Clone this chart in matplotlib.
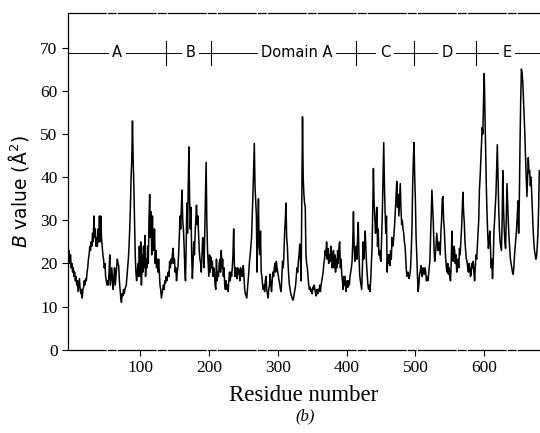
import numpy as np
import matplotlib.pyplot as plt

# B values, one per residue starting at residue -3
first_res = -3
bval = [
    23, 20, 22, 19, 20, 18, 19, 17, 18, 16, 17, 15, 16, 13.5, 15, 16.5, 14, 13, 14, 12,
    14, 14.5, 16, 15, 16.5, 16, 18, 19, 21, 22, 24, 23, 25, 24, 27, 25, 31, 26, 28, 24,
    26, 24, 28, 25, 31, 25, 31, 26, 24, 22, 21, 19, 20, 17, 16, 15, 16, 15, 18, 22,
    15, 17, 19, 16, 14, 17, 19, 15, 17, 19, 21, 20, 19.5, 16, 14, 12, 11, 13, 12.5, 14,
    13, 14, 14.5, 15, 17, 19, 21, 24, 28, 33, 40, 44, 53, 44, 38, 30, 22, 18, 16, 18,
    20, 17, 24, 17,
    # 101-210
    25, 15, 22, 18, 24, 19, 26.5, 17, 21, 19, 24, 20, 30, 36, 26, 32, 22, 31, 24, 23,
    28, 20, 23, 19, 21, 18, 21, 18, 15, 14, 12, 13, 14, 15, 14, 16, 15.5, 17, 16, 17,
    18, 17, 20.5, 19, 21, 20, 22, 23.5, 20, 21, 18, 19, 16, 18, 19, 22, 26, 31, 28, 33,
    37, 30, 28, 24, 19, 16, 24, 34, 27, 38, 47, 35, 28, 33, 22, 16.5, 20, 25, 22, 27,
    30, 33.5, 29, 31, 27, 23, 21, 20, 18, 22, 26, 24, 19, 27, 35, 43.4, 30, 23, 20, 17,
    22, 18, 21.5, 19, 20.5, 17, 19, 18, 15, 14,
    # 211-322
    21, 16, 18, 17, 20, 21, 18, 23, 19, 21, 17, 19, 15, 14, 16, 14, 15, 13.5, 16, 18,
    16, 18, 17, 19, 22, 28, 20, 17, 19, 18, 16.5, 19, 17.5, 18.5, 16, 19, 17, 18.5, 17, 19.5,
    17, 14, 13, 12.5, 12, 14, 16, 18, 20.5, 22, 24, 26, 31, 36, 42, 47.8, 38, 34.5, 31, 18,
    28, 35, 24, 22, 27.5, 18, 17, 15, 14, 15, 13.5, 16, 17, 14, 13, 12, 14, 15, 17.5, 15,
    13.5, 16, 18, 17, 19, 20, 18, 20.5, 19, 18, 17, 16, 15, 14, 13.5, 17, 20.5, 19, 22, 27,
    30, 34, 26, 24, 20, 17, 15, 14, 13, 12.5, 12, 11.5,
    # 323-430
    12, 13, 14, 15, 17, 19, 18, 20.5, 22, 24.5, 21, 16, 36, 54, 40, 36, 34, 33, 22, 20,
    19, 17, 15, 14, 14.5, 13.5, 14, 13, 14.5, 14, 15, 14, 13, 12.5, 14, 13, 14, 13.5, 15, 13.5,
    15, 16, 17, 18, 20, 21, 23, 22, 25, 21, 23.5, 20, 22, 20.5, 24, 23, 19, 20, 23, 19,
    22, 18, 21, 19, 23, 20, 24, 25, 19, 21, 17.5, 16, 14, 17, 15, 17, 13.5, 15, 16, 14.5,
    16, 15, 17, 18, 19, 20.5, 25, 32, 24, 20.5, 22, 24, 21, 26, 29.5, 22, 17.5, 16, 15, 14,
    19, 25, 21, 24, 27.5, 23.5, 20, 17.5,
    # 431-535
    15, 14, 15, 13.5, 16, 20, 23.5, 32, 42, 34, 31, 27, 29, 33, 24, 28, 22, 23, 21, 20.5,
    26, 32, 40, 48, 38, 32, 27, 31, 18, 22, 20, 22, 19.5, 23, 21, 26, 24, 25, 27, 29.5,
    33, 36, 39, 33, 36, 31, 35, 38.5, 33, 29, 30, 28, 27, 25, 24, 21, 18, 17, 18, 17,
    16.5, 17.5, 19, 23, 28, 38, 44, 48, 40, 34.5, 26, 22, 17, 13.5, 15, 17.5, 18, 19.5, 18, 17,
    19, 18, 17.5, 19, 18, 16, 17, 16, 17, 19, 20.5, 26, 31, 37, 33, 29.5, 24, 20.5, 22, 24,
    27, 25, 23, 25, 23.5,
    # 536-680
    22, 27, 30, 35, 35.5, 30, 28, 24, 21, 19, 18, 20, 17.5, 19, 17, 16, 20, 27.5, 22, 20.5,
    24, 23, 20, 22, 18, 20, 21, 19, 23.5, 22, 25, 28, 32, 36.5, 32, 29.5, 25, 23, 21, 20.5,
    19, 18, 20, 19, 17, 17.5, 20, 19, 20.5, 18, 16, 19, 22, 21, 24, 27, 30, 37, 40, 44,
    48, 51.5, 50, 58, 64, 55, 46, 38, 32, 27, 23.5, 25, 27.5, 24, 19, 21, 16.5, 20, 27, 30,
    33, 36, 42, 47.5, 40, 33, 28, 25, 24, 23, 30, 41.5, 33, 28, 25, 23.5, 30, 38.5, 34, 29.5,
    26, 23.5, 21, 20, 19, 18, 17.5, 19, 22, 24, 26, 28, 31, 34.5, 27, 35, 48, 58, 65, 64,
    62, 58, 54.5, 50, 44.5, 40, 35.5, 40, 44.5, 41, 41.5, 38, 40, 36, 32, 28, 25, 23, 22, 21,
    21.5, 24, 27, 33, 41.5,
]
resid = np.arange(first_res, first_res + len(bval))

# domain assignment along the top
domain_names = ['A', 'B', 'Domain A', 'C', 'D', 'E']
domain_label_x = [67, 173, 328, 456, 546, 633]
domain_bounds = [138, 203, 414, 498, 588]
bar_y = 68.8

fig = plt.figure(figsize=(5.4, 4.33), dpi=100)
ax = fig.add_axes([0.126, 0.192, 0.874, 0.778])

ax.plot(resid, bval, color='black', lw=1.1)

ax.set_xlim(-4.6, 681)
ax.set_ylim(0, 78)
ax.set_xticks([100, 200, 300, 400, 500, 600])
ax.set_yticks(range(0, 80, 10))

for lab in ax.get_xticklabels() + ax.get_yticklabels():
    lab.set_family('Liberation Serif')
    lab.set_fontsize(12.5)
ax.tick_params(direction='out', length=4, width=0.8, color='black')

ax.spines['right'].set_visible(False)
for s in ['top', 'bottom']:
    ax.spines[s].set_linestyle((0, (30, 2, 6, 2)))
    ax.spines[s].set_linewidth(0.9)
ax.spines['left'].set_linewidth(0.9)

ax.set_xlabel('Residue number', family='Liberation Serif', fontsize=16.5, labelpad=6)
ax.set_ylabel(r'$\it{B}$ value (Å$^2$)', family='DejaVu Sans', fontsize=13.5)
ax.yaxis.set_label_coords(-0.078, 0.47)
fig.text(0.565, 0.03, '(b)', family='Liberation Serif', style='italic', fontsize=12, ha='center')

# domain bar
ax.axhline(bar_y, color='black', lw=0.7)
for b in domain_bounds:
    ax.plot([b, b], [66, 71.5], color='black', lw=0.8)
for name, x in zip(domain_names, domain_label_x):
    ax.text(x, bar_y, name, family='DejaVu Sans', fontsize=10.5, ha='center', va='center',
            bbox=dict(facecolor='white', edgecolor='none', pad=2.5))

plt.savefig('out.png', dpi=100)
